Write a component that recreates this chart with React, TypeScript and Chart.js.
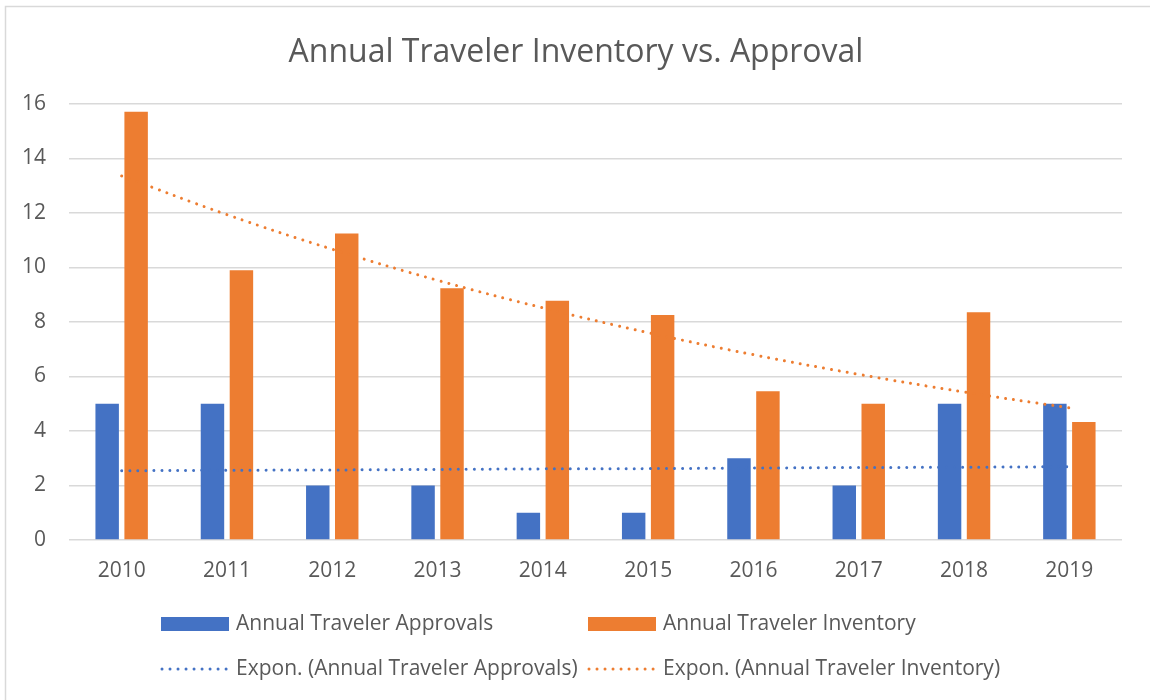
import React, { useEffect, useRef } from "react";
import { Chart, registerables } from "chart.js";

Chart.register(...registerables);

const years = ["2010", "2011", "2012", "2013", "2014", "2015", "2016", "2017", "2018", "2019"];
const approvals = [5, 5, 2, 2, 1, 1, 3, 2, 5, 5];
const inventory = [15.72, 9.9, 11.25, 9.24, 8.78, 8.26, 5.46, 5.0, 8.36, 4.33];
const approvalsTrend = [2.54, 2.56, 2.57, 2.59, 2.61, 2.62, 2.64, 2.66, 2.67, 2.69];
const inventoryTrend = [13.36, 11.94, 10.67, 9.53, 8.52, 7.61, 6.8, 6.08, 5.43, 4.85];
const yMin = 0;
const yMax = 16;
const yStep = 2;

const titleText = "Annual Traveler Inventory vs. Approval";
const seriesNames = ["Annual Traveler Approvals", "Annual Traveler Inventory"];
const trendNames = ["Expon. (Annual Traveler Approvals)", "Expon. (Annual Traveler Inventory)"];

const BLUE = "#4472C4";
const ORANGE = "#ED7D31";
const TEXT = "#595959";
const GRID = "#D9D9D9";
const FONT = "'Open Sans', 'Noto Sans', sans-serif";

const decorPlugin = {
  id: "decor",
  beforeDraw(chart: any) {
    const ctx = chart.ctx;
    ctx.save();
    ctx.fillStyle = "#ffffff";
    ctx.fillRect(0, 0, chart.width, chart.height);
    ctx.strokeStyle = GRID;
    ctx.lineWidth = 1.5;
    ctx.beginPath();
    ctx.moveTo(5.5, chart.height);
    ctx.lineTo(5.5, 6.5);
    ctx.lineTo(chart.width, 6.5);
    ctx.stroke();
    ctx.restore();
  },
  afterDraw(chart: any) {
    const ctx = chart.ctx;
    ctx.save();
    // title
    ctx.fillStyle = TEXT;
    ctx.font = `32px ${FONT}`;
    ctx.textAlign = "center";
    ctx.textBaseline = "alphabetic";
    ctx.fillText(titleText, 576, 62);

    // legend
    ctx.font = `21px ${FONT}`;
    ctx.textAlign = "left";
    ctx.textBaseline = "middle";
    const colX = [161, 588];
    const colors = [BLUE, ORANGE];
    const row1 = 624;
    const row2 = 669;
    for (let i = 0; i < 2; i++) {
      const x = colX[i];
      ctx.fillStyle = colors[i];
      ctx.fillRect(x, row1 - 7, 68, 14);
      ctx.fillStyle = TEXT;
      ctx.fillText(seriesNames[i], x + 75, row1);

      ctx.strokeStyle = colors[i];
      ctx.lineWidth = 3;
      ctx.lineCap = "round";
      ctx.setLineDash([0.01, 8]);
      ctx.beginPath();
      ctx.moveTo(x + 1, row2);
      ctx.lineTo(x + 67, row2);
      ctx.stroke();
      ctx.setLineDash([]);
      ctx.fillStyle = TEXT;
      ctx.fillText(trendNames[i], x + 75, row2);
    }
    ctx.restore();
  },
};

export default function App() {
  const ref = useRef<HTMLCanvasElement | null>(null);

  useEffect(() => {
    if (!ref.current) return;
    const chart = new Chart(ref.current, {
      type: "bar",
      data: {
        labels: years,
        datasets: [
          {
            type: "line",
            label: trendNames[0],
            data: approvalsTrend,
            borderColor: BLUE,
            borderWidth: 3,
            borderDash: [0.01, 8],
            borderCapStyle: "round",
            pointRadius: 0,
            fill: false,
            tension: 0.4,
            order: 0,
          },
          {
            type: "line",
            label: trendNames[1],
            data: inventoryTrend,
            borderColor: ORANGE,
            borderWidth: 3,
            borderDash: [0.01, 8],
            borderCapStyle: "round",
            pointRadius: 0,
            fill: false,
            tension: 0.4,
            order: 0,
          },
          {
            type: "bar",
            label: seriesNames[0],
            data: approvals,
            backgroundColor: BLUE,
            categoryPercentage: 0.55,
            barPercentage: 0.81,
            order: 1,
          },
          {
            type: "bar",
            label: seriesNames[1],
            data: inventory,
            backgroundColor: ORANGE,
            categoryPercentage: 0.55,
            barPercentage: 0.81,
            order: 1,
          },
        ],
      } as any,
      options: {
        responsive: false,
        animation: false,
        devicePixelRatio: 1,
        layout: { padding: { top: 104, left: 0, right: 28, bottom: 100 } },
        plugins: {
          legend: { display: false },
          title: { display: false },
          tooltip: { enabled: false },
        },
        scales: {
          x: {
            grid: { display: false, drawTicks: false },
            border: { display: false },
            ticks: {
              color: TEXT,
              font: { family: FONT, size: 21 },
              padding: 18,
              maxRotation: 0,
            },
            afterFit(scale: any) {
              scale.height = 60;
            },
          },
          y: {
            min: yMin,
            max: yMax,
            grid: { color: GRID, lineWidth: 1.4, drawTicks: false },
            border: { display: false },
            ticks: {
              stepSize: yStep,
              color: TEXT,
              font: { family: FONT, size: 21 },
              padding: 23,
            },
            afterFit(scale: any) {
              scale.width = 69;
            },
          },
        },
      },
      plugins: [decorPlugin],
    } as any);
    return () => chart.destroy();
  }, []);

  return (
    <div style={{ position: "fixed", left: 0, top: 0, width: 1150, height: 700, background: "#fff" }}>
      <canvas ref={ref} width={1150} height={700} />
    </div>
  );
}
